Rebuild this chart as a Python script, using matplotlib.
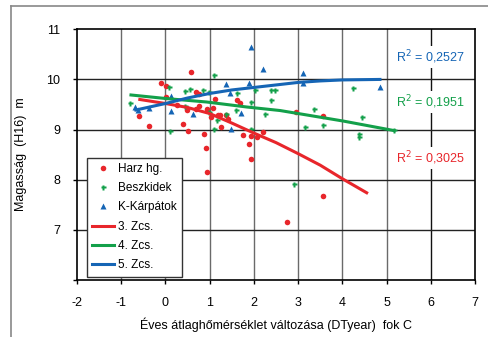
import numpy as np
import matplotlib
matplotlib.use('Agg')
import matplotlib.pyplot as plt
from matplotlib.lines import Line2D

plt.rcParams['font.family'] = ['Liberation Sans', 'DejaVu Sans']
plt.rcParams['axes.unicode_minus'] = False

# Harz hg. (red dots)
harz_x = [-0.60, -0.38, -0.10, 0.01, 0.01, 0.58, 0.25, 0.39, 0.50, 0.48, 0.70, 0.69,
          0.76, 0.88, 0.91, 0.93, 1.04, 1.08, 1.12, 1.23, 1.26, 1.38, 1.42, 1.61,
          1.69, 1.75, 1.90, 1.93, 2.06, 2.20, 0.93, 1.93, 2.74, 3.57, 2.95, 3.57,
          1.18, 0.76]
harz_y = [9.28, 9.07, 9.93, 9.87, 9.64, 10.14, 9.50, 9.11, 8.98, 9.39, 9.75, 9.41,
          9.47, 8.92, 8.64, 9.42, 9.26, 9.44, 9.60, 9.29, 9.06, 9.29, 9.21, 9.59,
          9.53, 8.89, 8.71, 8.87, 8.86, 8.96, 8.15, 8.41, 7.16, 7.68, 9.36, 9.27,
          9.29, 9.70]

# Beszkidek (green)
besz_x = [-0.80, 0.09, 0.11, 0.44, 0.44, 0.55, 0.84, 0.99, 1.10, 1.10, 0.98, 1.16,
          1.38, 1.60, 1.62, 1.93, 1.93, 2.02, 2.24, 2.38, 2.38, 2.48, 3.36, 3.16,
          3.57, 4.25, 4.44, 4.38, 4.38, 5.17, 2.91]
besz_y = [9.53, 9.85, 8.98, 9.47, 9.77, 9.80, 9.79, 9.75, 10.08, 9.02, 9.36, 9.19,
          9.32, 9.39, 9.73, 9.55, 9.02, 9.79, 9.32, 9.59, 9.78, 9.79, 9.42, 9.06,
          9.09, 9.82, 9.26, 8.92, 8.86, 8.99, 7.91]

# K-Kárpátok (blue triangles)
karp_x = [-0.70, -0.62, -0.37, 0.13, 0.12, 0.63, 1.38, 1.45, 1.70, 1.49, 1.90,
          1.93, 2.20, 3.12, 3.12, 4.85]
karp_y = [9.45, 9.40, 9.44, 9.37, 9.67, 9.31, 9.90, 9.72, 9.34, 9.02, 9.92,
          10.65, 10.20, 10.13, 9.93, 9.85]

# trend curves
z3_x = [-0.58, 0.0, 0.5, 1.0, 1.5, 2.0, 2.5, 3.0, 3.5, 4.0, 4.55]
z3_y = [9.60, 9.52, 9.44, 9.32, 9.13, 8.93, 8.74, 8.52, 8.29, 8.02, 7.74]
z4_x = [-0.78, 0.0, 0.93, 1.84, 2.59, 3.0, 4.02, 5.17]
z4_y = [9.69, 9.62, 9.55, 9.45, 9.38, 9.32, 9.17, 8.98]
z5_x = [-0.67, 0.0, 0.5, 1.0, 1.5, 2.0, 2.5, 3.0, 3.5, 4.0, 4.85]
z5_y = [9.39, 9.52, 9.63, 9.72, 9.79, 9.84, 9.89, 9.94, 9.97, 9.99, 10.0]

r2_labels = ['R$^2$ = 0,2527', 'R$^2$ = 0,1951', 'R$^2$ = 0,3025']
r2_y = [10.45, 9.55, 8.43]

red = '#e8262b'
green = '#13a04a'
blue = '#1565b5'

fig = plt.figure(figsize=(4.89, 3.37), dpi=100)
ax = fig.add_axes([0.1575, 0.1691, 0.8139, 0.744])

# outer frame (left and top only visible)
fig.add_artist(Line2D([11/489, 11/489], [0, 1-6/337], color='#888888', lw=1.2))
fig.add_artist(Line2D([11/489, 1], [1-6/337, 1-6/337], color='#888888', lw=1.2))

for v in range(-1, 7):
    ax.axvline(v, color='#6a6a6a' if v != 6 else '#111111', lw=1.0, zorder=0)
for h in range(7, 11):
    ax.axhline(h, color='#222222', lw=1.0, zorder=0)

ax.plot(harz_x, harz_y, 'o', color=red, ms=4.0, mec='none', label='Harz hg.', zorder=3)
ax.plot(besz_x, besz_y, 'P', color=green, ms=3.6, mec='none', label='Beszkidek', zorder=3)
ax.plot(karp_x, karp_y, '^', color=blue, ms=4.2, mec='none', label='K-Kárpátok', zorder=3)
ax.plot(z3_x, z3_y, '-', color=red, lw=2.2, label='3. Zcs.', zorder=4)
ax.plot(z4_x, z4_y, '-', color=green, lw=2.2, label='4. Zcs.', zorder=4)
ax.plot(z5_x, z5_y, '-', color=blue, lw=2.2, label='5. Zcs.', zorder=4)

for lab, yy, c in zip(r2_labels, r2_y, [blue, green, red]):
    ax.text(6.0, yy, lab, color=c, fontsize=9, ha='center', va='center',
            bbox=dict(facecolor='white', edgecolor='none', pad=1.5), zorder=5)

ax.set_xlim(-2, 7)
ax.set_ylim(6, 11)
ax.set_xticks(range(-2, 8))
ax.set_yticks(range(6, 12))
ax.set_yticklabels([''] + [str(v) for v in range(7, 12)])
ax.tick_params(direction='out', length=3, width=1, labelsize=9, colors='black')
ax.tick_params(axis='x', pad=9)
ax.tick_params(axis='y', pad=9)
for s in ax.spines.values():
    s.set_color('black')
    s.set_linewidth(1.2)

ax.set_xlabel('Éves átlaghőmérséklet változása (DTyear)  fok C', fontsize=9, labelpad=6)
ax.set_ylabel('Magasság  (H16)  m', fontsize=9, labelpad=14)

leg = ax.legend(loc='lower left', bbox_to_anchor=(0.024, 0.013), fontsize=8.5,
                frameon=True, fancybox=False, edgecolor='#333333', framealpha=1,
                handlelength=1.9, labelspacing=0.62, borderaxespad=0, borderpad=0.45,
                handletextpad=0.3)
leg.get_frame().set_linewidth(1.0)
leg.set_zorder(6)

fig.savefig('out.png', dpi=100)
